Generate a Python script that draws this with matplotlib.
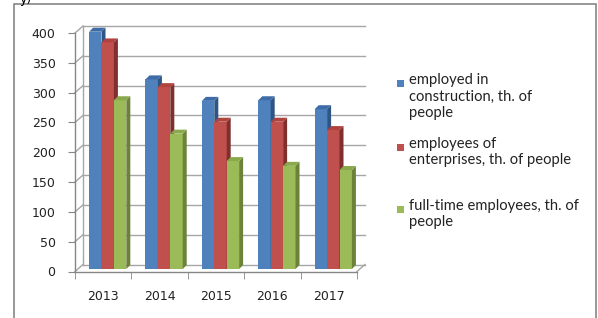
import matplotlib
matplotlib.use("Agg")
import matplotlib.pyplot as plt
from matplotlib.patches import Polygon, Rectangle

years = ["2013", "2014", "2015", "2016", "2017"]
construction = [398, 318, 282, 283, 268]
enterprises = [380, 305, 247, 247, 233]
full_time = [283, 227, 181, 173, 166]
series_labels = ["employed in\nconstruction, th. of\npeople",
                 "employees of\nenterprises, th. of people",
                 "full-time employees, th. of\npeople"]
yticks = [0, 50, 100, 150, 200, 250, 300, 350, 400]

# front, side, top colours per series
colors = [("#4F81BD", "#2E5584", "#3D6CA6"),
          ("#C0504D", "#7F2F2D", "#B1433F"),
          ("#9BBB59", "#6B8238", "#8AA94C")]
grid_c = "#A6A6A6"
axis_c = "#868686"

W, H = 598, 318
fig = plt.figure(figsize=(W / 100, H / 100), dpi=100)
ax = fig.add_axes([75 / W, (H - 271.5) / H, (357 - 75) / W, (271.5 - 33) / H])
ax.set_xlim(-0.5, 4.5)
ax.set_ylim(0, 400)
for s in ax.spines.values():
    s.set_visible(False)
ax.patch.set_visible(False)

# pixel -> data unit conversion
ppx = ax.bbox.width / 5
ppy = ax.bbox.height / 400
wall_dx, wall_dy = 8 / ppx, 7 / ppy

# back wall gridlines + side wall diagonals
for v in yticks:
    ax.plot([-0.5 + wall_dx, 4.5 + wall_dx], [v + wall_dy, v + wall_dy],
            color=grid_c, lw=1, clip_on=False, zorder=1)
    ax.plot([-0.5, -0.5 + wall_dx], [v, v + wall_dy], color=grid_c, lw=1,
            clip_on=False, zorder=1)
ax.plot([-0.5 + wall_dx, -0.5 + wall_dx], [wall_dy, 400 + wall_dy],
        color=grid_c, lw=1, clip_on=False, zorder=1)
# floor
ax.plot([-0.5, 4.5], [0, 0], color=axis_c, lw=1, clip_on=False, zorder=2)
ax.plot([4.5, 4.5 + wall_dx], [0, wall_dy], color=grid_c, lw=1,
        clip_on=False, zorder=1)
ax.plot([-0.5, -0.5], [0, 400], color=axis_c, lw=1, clip_on=False, zorder=2)

# 3d-looking bars
w = 0.22
bx, by = 4.5 / ppx, 2.5 / ppy
dx, dy = 4 / ppx, 4 / ppy
data = [construction, enterprises, full_time]
for i in range(len(years)):
    for k, vals in enumerate(data):
        front, side, top = colors[k]
        x0 = i - 1.5 * w + k * w + bx
        x1 = x0 + w
        y0 = by
        y1 = vals[i] + by
        ax.bar(x0, vals[i], width=w, bottom=y0, align="edge", color=front,
               zorder=3 + k, clip_on=False)
        ax.add_patch(Polygon([(x1, y0), (x1 + dx, y0 + dy), (x1 + dx, y1 + dy), (x1, y1)],
                             closed=True, facecolor=side, edgecolor="none",
                             zorder=3 + k, clip_on=False))
        ax.add_patch(Polygon([(x0, y1), (x0 + dx, y1 + dy), (x1 + dx, y1 + dy), (x1, y1)],
                             closed=True, facecolor=top, edgecolor="none",
                             zorder=3 + k, clip_on=False))

ax.set_yticks(yticks)
ax.set_yticklabels([str(v) for v in yticks], fontsize=9, color="#222222")
ax.tick_params(axis="y", length=5, color=axis_c, pad=9)
ax.set_xticks(range(len(years)))
ax.set_xticklabels(years, fontsize=9, color="#222222")
ax.tick_params(axis="x", which="major", length=0, pad=13)
ax.set_xticks([i - 0.5 for i in range(len(years) + 1)], minor=True)
ax.tick_params(axis="x", which="minor", length=5, color=axis_c)

# legend
legend_y = [83, 147, 209]
for k, lab in enumerate(series_labels):
    yy = (H - legend_y[k]) / H
    fig.patches.append(Rectangle((397 / W, yy - 3.5 / H), 7 / W, 7 / H,
                                 transform=fig.transFigure, facecolor=colors[k][0],
                                 edgecolor="none"))
    fig.text(409 / W, yy + 10 / H, lab, fontsize=10.6, family="Lato", va="top",
             ha="left", linespacing=1.22, color="#222222")

# chart frame
fig.patches.append(Rectangle((14 / W, -0.1), (596 - 14) / W, (H - 4) / H + 0.1,
                             transform=fig.transFigure, fill=False,
                             edgecolor=axis_c, lw=1.2))
fig.text(20 / W, 1.0, "y)", fontsize=9, va="center", ha="left")

fig.savefig("out.png", dpi=100)
